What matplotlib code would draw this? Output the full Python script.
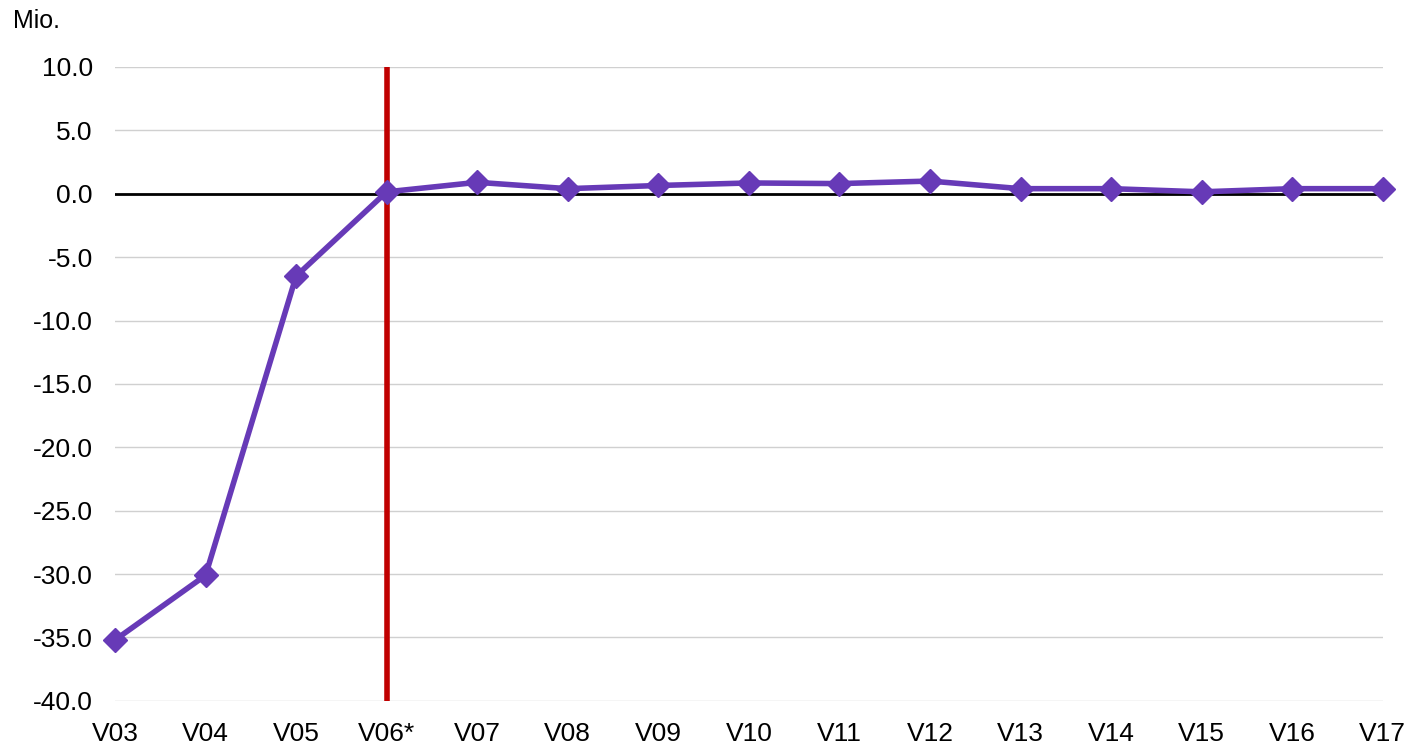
import numpy as np
import matplotlib.pyplot as plt

plt.rcParams['font.family'] = ['Liberation Sans', 'DejaVu Sans']

versions = ['V03', 'V04', 'V05', 'V06*', 'V07', 'V08', 'V09', 'V10',
            'V11', 'V12', 'V13', 'V14', 'V15', 'V16', 'V17']
values = [-35.2, -30.1, -6.5, 0.15, 0.9, 0.4, 0.65, 0.85,
          0.8, 1.0, 0.4, 0.4, 0.15, 0.4, 0.4]
marker_version = 'V06*'
yticks = np.arange(-40, 10.1, 5)

fig = plt.figure(figsize=(14.11, 7.44), dpi=100)
ax = fig.add_axes([0.0815, 0.058, 0.8985, 0.852])

x = np.arange(len(versions))
for t in yticks:
    ax.axhline(t, color='#d0d0d0', lw=1, zorder=0)
ax.axhline(0, color='black', lw=2, zorder=1)
ax.axvline(versions.index(marker_version), color='#c00000', lw=4, zorder=2)
ax.plot(x, values, color='#673ab7', lw=4, marker='D', markersize=12,
        zorder=3, clip_on=False)

ax.set_xlim(0, len(versions) - 1)
ax.set_ylim(-40, 10)
ax.set_yticks(yticks)
ax.set_yticklabels([f'{v:.1f}' for v in yticks])
ax.set_xticks(x)
ax.set_xticklabels(versions)
ax.tick_params(length=0, labelsize=19)
ax.tick_params(axis='y', pad=16)
ax.tick_params(axis='x', pad=15)
for s in ax.spines.values():
    s.set_visible(False)

fig.text(0.009, 0.972, 'Mio.', fontsize=18, va='center')

fig.savefig('out.png', dpi=100)
